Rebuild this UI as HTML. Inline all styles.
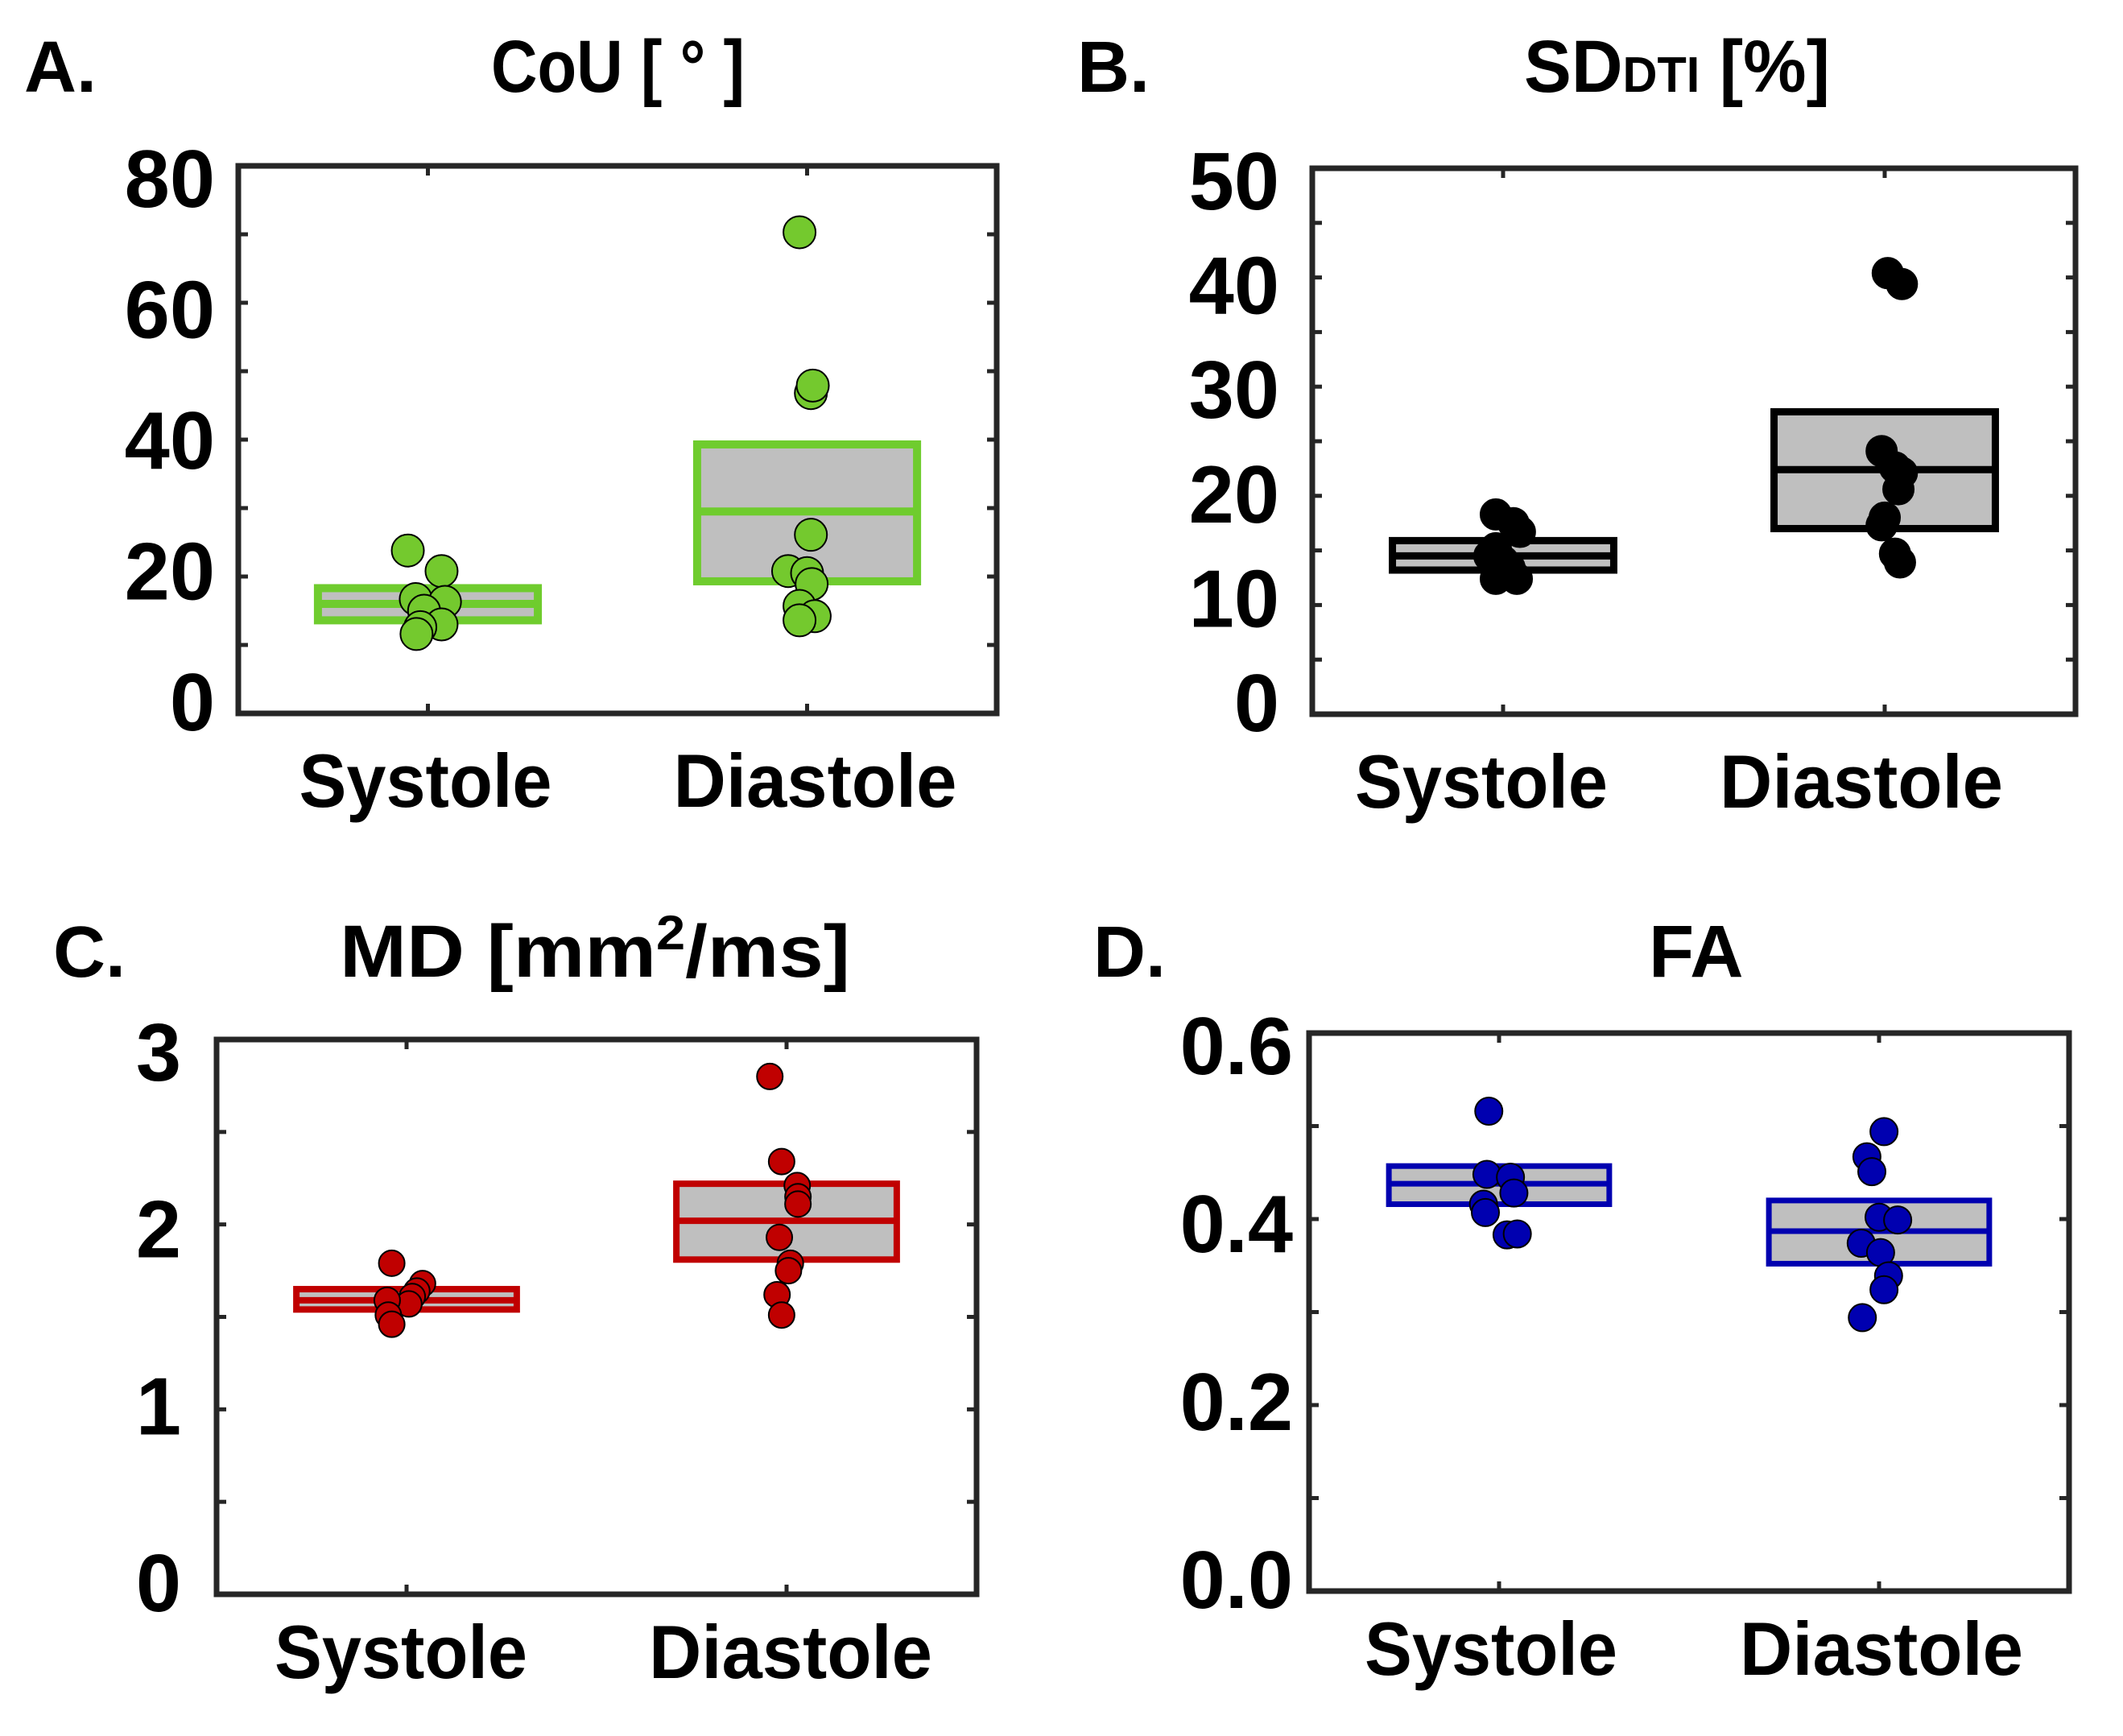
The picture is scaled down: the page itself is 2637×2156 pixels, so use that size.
<!DOCTYPE html>
<html><head><meta charset="utf-8"><style>
html,body{margin:0;padding:0;background:#fff;}
svg{display:block;font-family:"Liberation Sans",sans-serif;font-weight:bold;}
</style></head><body>
<svg id="fig" width="2637" height="2156" viewBox="0 0 2637 2156" xmlns="http://www.w3.org/2000/svg">
<rect x="0" y="0" width="2637" height="2156" fill="#fff"/>
<text x="30" y="114" font-size="90">A.</text>
<text x="610" y="114" font-size="92" textLength="315" lengthAdjust="spacingAndGlyphs">CoU [ ° ]</text>
<text x="1338" y="114" font-size="90">B.</text>
<text x="1893" y="114" font-size="92" textLength="380" lengthAdjust="spacingAndGlyphs">SD<tspan font-size="62" dy="0">DTI</tspan> [%]</text>
<text x="66" y="1213" font-size="90">C.</text>
<text x="422" y="1213" font-size="92" textLength="634" lengthAdjust="spacingAndGlyphs">MD [mm<tspan font-size="60" dy="-34">2</tspan><tspan dy="34">/ms]</tspan></text>
<text x="1358" y="1213" font-size="90">D.</text>
<text x="2048" y="1213" font-size="92">FA</text>
</svg>
<script>
// Panel A: CoU
const aTicks = [0, 20, 40, 60, 80];
const aBoxSys = [13.6, 16.0, 18.3];
const aBoxDia = [19.3, 29.5, 39.3];
const aSys = [23.8, 20.8, 16.7, 16.3, 15.0, 13.0, 12.6, 11.6];
const aSysJit = [-0.053, 0.036, -0.032, 0.045, -0.01, 0.036, -0.02, -0.03];
const aDia = [70.3, 46.8, 47.9, 26.1, 20.8, 20.5, 18.9, 15.7, 14.2, 13.6];
const aDiaJit = [-0.02, 0.01, 0.015, 0.01, -0.05, 0, 0.012, -0.02, 0.02, -0.02];
// Panel B: SD_DTI
const bTicks = [0, 10, 20, 30, 40, 50];
const bBoxSys = [13.2, 14.5, 15.9];
const bBoxDia = [17.0, 22.4, 27.7];
const bSys = [18.3, 17.5, 16.7, 15.2, 14.0, 13.4, 12.4, 12.4, 14.5];
const bSysJit = [-0.019, 0.027, 0.044, -0.019, 0, 0.017, -0.019, 0.036, -0.036];
const bDia = [40.4, 39.4, 24.1, 22.6, 22.1, 20.6, 18.0, 17.3, 14.7, 13.9];
const bDiaJit = [0.008, 0.045, -0.008, 0.027, 0.045, 0.036, 0, -0.008, 0.027, 0.04];
// Panel C: MD
const cTicks = [0, 1, 2, 3];
const cBoxSys = [1.54, 1.59, 1.65];
const cBoxDia = [1.81, 2.02, 2.22];
const cSys = [1.79, 1.68, 1.64, 1.61, 1.57, 1.59, 1.51, 1.46];
const cSysJit = [-0.039, 0.042, 0.027, 0.015, 0.006, -0.051, -0.048, -0.039];
const cDia = [2.80, 2.34, 2.21, 2.15, 2.11, 1.93, 1.79, 1.75, 1.62, 1.51];
const cDiaJit = [-0.044, -0.013, 0.028, 0.03, 0.03, -0.019, 0.01, 0.005, -0.025, -0.013];
// Panel D: FA
const dTicks = [0.0, 0.2, 0.4, 0.6];
const dBoxSys = [0.416, 0.438, 0.457];
const dBoxDia = [0.352, 0.387, 0.420];
const dSys = [0.516, 0.448, 0.445, 0.428, 0.416, 0.407, 0.383, 0.384];
const dSysJit = [-0.027, -0.032, 0.03, 0.039, -0.041, -0.036, 0.021, 0.048];
const dDia = [0.494, 0.467, 0.451, 0.402, 0.399, 0.374, 0.364, 0.339, 0.324, 0.294];
const dDiaJit = [0.013, -0.032, -0.019, 0, 0.049, -0.047, 0.004, 0.025, 0.013, -0.044];
const categories = ['Systole', 'Diastole'];

const NS = 'http://www.w3.org/2000/svg';
const svg = document.getElementById('fig');
function mk(tag, attrs, parent) {
  const e = document.createElementNS(NS, tag);
  for (const k in attrs) e.setAttribute(k, attrs[k]);
  (parent || svg).appendChild(e);
  return e;
}

function panel(p) {
  const g = mk('g', {});
  
  
  const xs = v => p.x0 + (v - 0.5) / 2 * (p.x1 - p.x0);
  const ys = v => p.y1 - (v - p.ymin) / (p.ymax - p.ymin) * (p.y1 - p.y0);
  const cy = (p.y0 + p.y1) / 2;
  [[p.boxSys, 1], [p.boxDia, 2]].forEach(([b, c], i) => {
    const bx = mk('rect', {x: xs(c - 0.29), y: ys(b[2]), width: xs(c + 0.29) - xs(c - 0.29), height: ys(b[0]) - ys(b[2]), fill: '#bfbfbf', stroke: p.col, 'stroke-width': p.bw}, g);
    
    
    const md = mk('line', {x1: xs(c - 0.29), x2: xs(c + 0.29), y1: ys(b[1]), y2: ys(b[1]), stroke: p.col, 'stroke-width': p.bw}, g);
    
    
  });
  [[p.sys, p.sysJit, 1], [p.dia, p.diaJit, 2]].forEach(([vals, jit, c], i) => {
    vals.forEach((v, k) => {
      const pt = mk('circle', {cx: xs(c + jit[k]), cy: ys(v), r: p.r, fill: p.dot, stroke: '#000', 'stroke-width': 2}, g);
      
      
    });
  });
  const fr = mk('rect', {x: p.x0, y: p.y0, width: p.x1 - p.x0, height: p.y1 - p.y0, fill: 'none', stroke: '#262626', 'stroke-width': 7}, g);
  
  
  const step = p.ticks[1] - p.ticks[0];
  for (let v = p.ymin; v <= p.ymax + 1e-9; v += step / 2) {
    const y = ys(v);
    mk('line', {x1: p.x0, x2: p.x0 + 12, y1: y, y2: y, stroke: '#262626', 'stroke-width': 5}, g);
    mk('line', {x1: p.x1 - 12, x2: p.x1, y1: y, y2: y, stroke: '#262626', 'stroke-width': 5}, g);
  }
  p.ticks.forEach((v, i) => {
    const y = cy + (ys(v) - cy) * 0.956 + 36;
    const t = mk('text', {x: p.x0 - p.gap, y: y, 'font-size': 101, 'text-anchor': 'end'}, g);
    t.textContent = p.labels[i];
    
    
  });
  [1, 2].forEach((c, i) => {
    mk('line', {x1: xs(c), x2: xs(c), y1: p.y0, y2: p.y0 + 12, stroke: '#262626', 'stroke-width': 5}, g);
    mk('line', {x1: xs(c), x2: xs(c), y1: p.y1 - 12, y2: p.y1, stroke: '#262626', 'stroke-width': 5}, g);
    const t = mk('text', {x: xs(c) + p.lx[i], y: p.y1 + p.ly, 'font-size': 94, 'text-anchor': 'middle', textLength: i ? 352 : 314, lengthAdjust: 'spacingAndGlyphs'}, g);
    t.textContent = categories[i];
    
    
  });
}

panel({id: 'panel-a', x0: 296, x1: 1238, y0: 206, y1: 886, ymin: 0, ymax: 80, ticks: aTicks, labels: aTicks.map(String), gap: 29, lx: [-3, 10], ly: 116,
  boxSys: aBoxSys, boxDia: aBoxDia, sys: aSys, sysJit: aSysJit, dia: aDia, diaJit: aDiaJit, col: '#6fcc2e', dot: '#74c92e', r: 20, bw: 10});
panel({id: 'panel-b', x0: 1630, x1: 2578, y0: 209, y1: 887, ymin: 0, ymax: 50, ticks: bTicks, labels: bTicks.map(String), gap: 41, lx: [-27, -29], ly: 116,
  boxSys: bBoxSys, boxDia: bBoxDia, sys: bSys, sysJit: bSysJit, dia: bDia, diaJit: bDiaJit, col: '#000', dot: '#000', r: 19, bw: 9});
panel({id: 'panel-c', x0: 269, x1: 1213, y0: 1291, y1: 1980, ymin: 0, ymax: 3, ticks: cTicks, labels: cTicks.map(String), gap: 44, lx: [-7, 5], ly: 104,
  boxSys: cBoxSys, boxDia: cBoxDia, sys: cSys, sysJit: cSysJit, dia: cDia, diaJit: cDiaJit, col: '#c00000', dot: '#c00000', r: 16, bw: 8});
panel({id: 'panel-d', x0: 1626, x1: 2570, y0: 1283, y1: 1976, ymin: 0, ymax: 0.6, ticks: dTicks, labels: dTicks.map(v => v.toFixed(1)), gap: 20, lx: [-10, 3], ly: 104,
  boxSys: dBoxSys, boxDia: dBoxDia, sys: dSys, sysJit: dSysJit, dia: dDia, diaJit: dDiaJit, col: '#0000b0', dot: '#0000b0', r: 17, bw: 7});
</script>
</body></html>
